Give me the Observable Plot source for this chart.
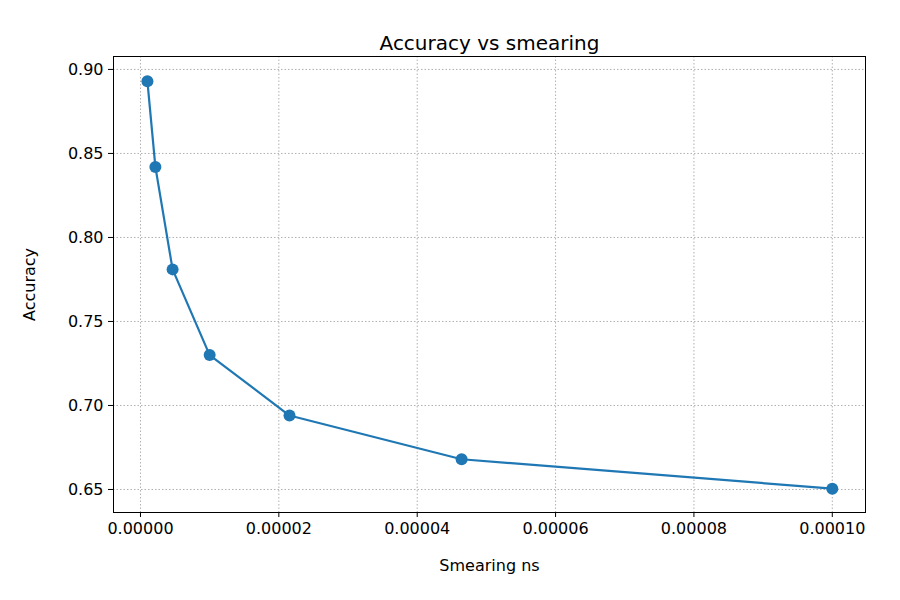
<!DOCTYPE html>
<html><head><meta charset="utf-8">
<script src="https://cdn.jsdelivr.net/npm/d3@7"></script>
<script src="https://cdn.jsdelivr.net/npm/@observablehq/plot@0.6"></script>
<style>body{margin:0;background:#fff}svg{font-family:"DejaVu Sans",sans-serif}</style>
</head><body><div id="c"></div>
<script>
const smearing = [1e-6, 2.154e-6, 4.642e-6, 1e-5, 2.154e-5, 4.642e-5, 1e-4];
const accuracy = [0.893, 0.842, 0.781, 0.730, 0.694, 0.668, 0.6505];
const xTicks = [0, 2e-5, 4e-5, 6e-5, 8e-5, 1e-4];
const yTicks = [0.65, 0.70, 0.75, 0.80, 0.85, 0.90];
const data = smearing.map((s, i) => ({s, a: accuracy[i]}));
const chart = Plot.plot({
  width: 900, height: 600,
  marginLeft: 113, marginRight: 35, marginTop: 56, marginBottom: 88,
  style: {fontSize: "16px", fontFamily: "DejaVu Sans, sans-serif", color: "#000"},
  x: {domain: [-3.9e-6, 1.048e-4], ticks: xTicks, tickFormat: d3.format(".5f"), label: "Smearing ns", labelArrow: "none", labelAnchor: "center", labelOffset: 58, tickSize: 5, tickPadding: 5},
  y: {domain: [0.6363, 0.9077], ticks: yTicks, tickFormat: d3.format(".2f"), label: "Accuracy", labelArrow: "none", labelAnchor: "center", labelOffset: 90, tickSize: 5, tickPadding: 5},
  marks: [
    Plot.gridX(xTicks, {stroke: "#b0b0b0", strokeOpacity: 1, strokeDasharray: "1.5,2"}),
    Plot.gridY(yTicks, {stroke: "#b0b0b0", strokeOpacity: 1, strokeDasharray: "1.5,2"}),
    Plot.frame({stroke: "#000"}),
    Plot.line(data, {x: "s", y: "a", stroke: "#1f77b4", strokeWidth: 2.2}),
    Plot.dot(data, {x: "s", y: "a", fill: "#1f77b4", r: 6}),
    Plot.text(["Accuracy vs smearing"], {frameAnchor: "top", dy: -21, fontSize: 20, fill: "#000"})
  ]
});
document.getElementById("c").appendChild(chart);
</script></body></html>
